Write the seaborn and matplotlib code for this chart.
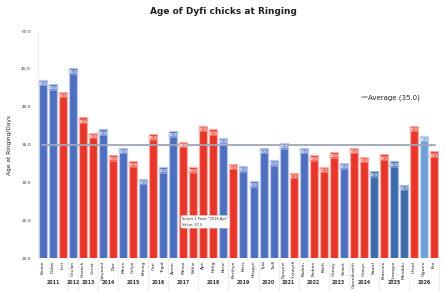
import matplotlib
matplotlib.use("Agg")
import matplotlib.pyplot as plt
import matplotlib.transforms as mtransforms
import seaborn as sns
import pandas as pd

# chick names (x axis), ringing year and age at ringing (days)
names = ["Einion", "Dulas", "Leri", "Ceulan", "Clarach", "Cerist", "Gwynant", "Dwr",
         "Merin", "Celyn", "Brenig", "Cari", "Tegid", "Aeron", "Menai", "Eithin",
         "Aye", "Helig", "Ebrw", "Berthyn", "Peris", "Hesgyn", "Tywi", "Twill",
         "Dysynni", "Ystwyth", "Padarn", "Pedran", "Paith", "Conwy", "Seiont",
         "Gwendraeth", "Cowyn", "Sawel", "Braenen", "Corwgyn", "Menddu",
         "Ufrod", "Ogwen", "Eto"]
years = ["2011", "2011", "2011", "2012", "2013", "2013", "2014", "2014",
         "2015", "2015", "2015", "2016", "2016", "2017", "2017", "2017",
         "2018", "2018", "2018", "2019", "2019", "2019", "2020", "2020",
         "2021", "2021", "2022", "2022", "2022", "2023", "2023",
         "2024", "2024", "2024", "2025", "2025", "2025",
         "2026", "2026", "2026"]
ages = [43.6, 43.0, 42.0, 45.1, 38.6, 36.6, 37.0, 33.6,
        34.6, 32.8, 30.5, 36.4, 32.0, 36.8, 35.4, 32.0,
        37.5, 37.0, 35.9, 32.5, 32.2, 30.2, 34.6, 33.0,
        35.2, 31.3, 34.6, 33.6, 32.1, 34.0, 32.6,
        34.6, 33.4, 31.5, 33.7, 32.8, 29.7,
        37.5, 36.2, 34.1]
# b = blue, r = red, d = dark blue, l = light blue
kinds = ["b", "b", "r", "b", "r", "r", "b", "r",
         "b", "r", "b", "r", "b", "b", "r", "r",
         "r", "r", "b", "r", "b", "b", "b", "b",
         "b", "r", "b", "r", "r", "r", "b",
         "r", "r", "d", "r", "d", "d",
         "r", "l", "r"]
average = 35.0

pal = {"b": "#4e6fbe", "r": "#e8372a", "d": "#3d6aa8", "l": "#6f9fd6"}
edge = {"b": "#b9c7ea", "r": "#f6b0a8", "d": "#a9bfe0", "l": "#c4d8f0"}

df = pd.DataFrame({"name": names, "year": years, "age": ages, "kind": kinds})

sns.set_style("white")
plt.rcParams["font.family"] = ["DejaVu Sans"]

fig = plt.figure(figsize=(4.47, 2.91), dpi=100)
ax = fig.add_axes([0.085, 0.113, 0.897, 0.780])

sns.barplot(data=df, x="name", y="age", hue="name",
            palette=[pal[k] for k in kinds], legend=False,
            width=0.8, ax=ax, saturation=1)
for p, k in zip(ax.patches, kinds):
    p.set_edgecolor(edge[k])
    p.set_linewidth(0.9)

for i, (v, k) in enumerate(zip(ages, kinds)):
    ax.text(i, v - 0.55, f"{v:.1f}", ha="center", va="center", fontsize=2.8,
            color="white",
            bbox=dict(boxstyle="square,pad=0.15", fc=edge[k], ec="none", alpha=0.45))

ax.axhline(average, xmin=0.01, xmax=0.99, color="#9ea6b8", lw=1.3,
           label=f"Average ({average})")
ax.legend(loc="center left", bbox_to_anchor=(0.80, 0.705), frameon=False,
          fontsize=5, handlelength=0.8, handletextpad=0.2, borderaxespad=0)

ax.set_ylim(20, 50)
ax.set_xlim(-0.5, len(names) - 0.5)
ax.set_yticks([20, 25, 30, 35, 40, 45, 50])
ax.set_yticklabels([f"{t:.1f}" for t in [20, 25, 30, 35, 40, 45, 50]])
ax.tick_params(axis="y", labelsize=3.2, length=0, pad=5, labelcolor="#333333")
ax.tick_params(axis="x", labelsize=3.2, length=0, pad=2, rotation=90,
               labelcolor="#222222")
ax.set_xlabel("")
ax.set_ylabel("Age at Ringing/Days", fontsize=4.2, labelpad=7)
for s in ["top", "right", "bottom"]:
    ax.spines[s].set_visible(False)
ax.spines["left"].set_color("#eeeeee")
ax.spines["left"].set_linewidth(0.6)

# year groups under the names
trans = mtransforms.blended_transform_factory(ax.transData, ax.transAxes)
groups = []
for i, y in enumerate(years):
    if groups and groups[-1][0] == y:
        groups[-1][2] = i
    else:
        groups.append([y, i, i])
for y, a, b in groups:
    ax.text((a + b) / 2, -0.108, y, transform=trans, ha="center", va="center",
            fontsize=3.4, fontweight="bold", color="#333333", clip_on=False)
    ax.plot([b + 0.5, b + 0.5], [0, -0.145], transform=trans, color="#e6e6e6",
            lw=0.5, clip_on=False)

ax.text(13.9, 0.16, 'Series 1 Point "2018 Aye"\nValue: 37.5', transform=trans,
        fontsize=2.6, color="#333333", va="center", ha="left", linespacing=1.6,
        bbox=dict(boxstyle="round,pad=0.4", fc="white", ec="#cccccc", lw=0.4))

fig.suptitle("Age of Dyfi chicks at Ringing", y=0.975, fontsize=6.5,
             fontweight="bold", color="#222222")

fig.savefig("out.png", dpi=100)
